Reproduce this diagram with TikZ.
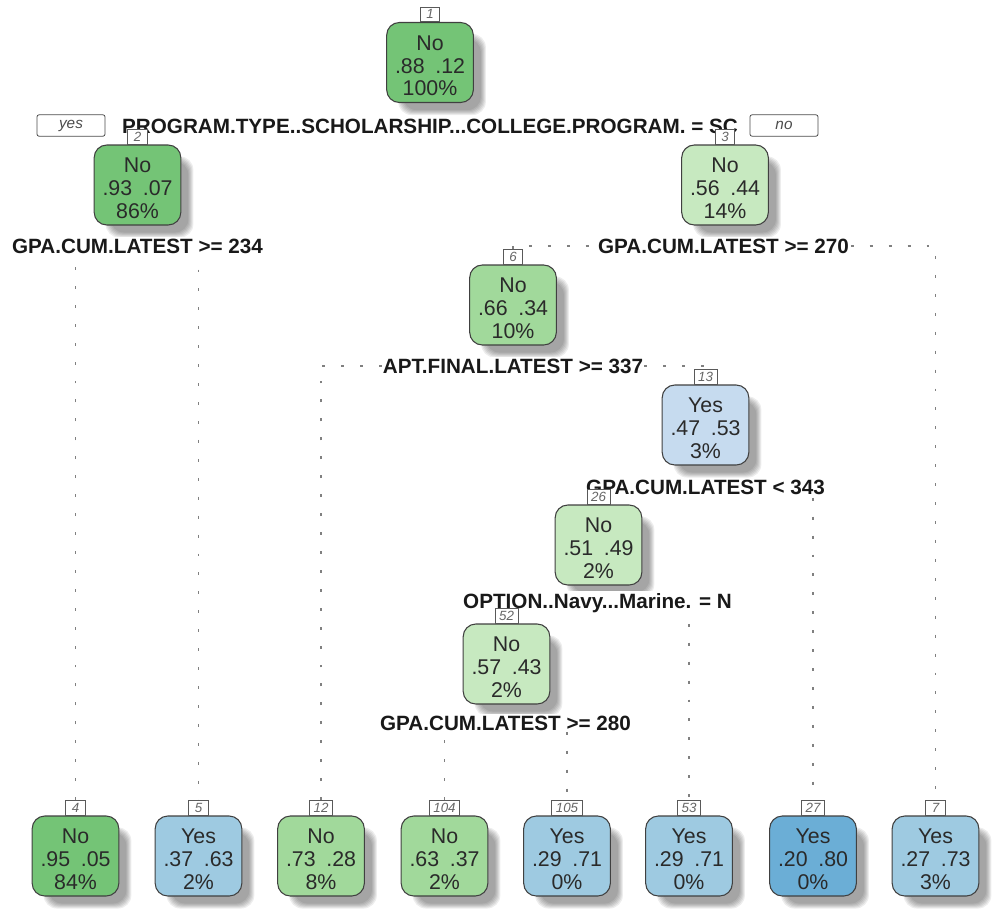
\documentclass[tikz,border=0pt]{standalone}
\usepackage{fontspec}
\setmainfont{Liberation Sans}
\usetikzlibrary{calc}

% fills of the class scale: greens for "No", blues for "Yes"
\definecolor{gnDark}{HTML}{74C476}
\definecolor{gnMid}{HTML}{A1D99B}
\definecolor{gnLight}{HTML}{C7E9C0}
\definecolor{buLight}{HTML}{C6DBEF}
\definecolor{buMid}{HTML}{9ECAE1}
\definecolor{buDark}{HTML}{6BAED6}
\definecolor{txt}{HTML}{2A2A2A}
\definecolor{edgeline}{HTML}{808080}

\newcommand\tnfont{\fontsize{16}{17}\selectfont}
\newcommand\spfont{\bfseries\fontsize{15.5}{17}\selectfont}
\newcommand\idfont{\itshape\fontsize{10}{11}\selectfont}
\newcommand\gap{\hspace{0.5em}}
% taller first line so the three lines sit a little lower in the box
\newcommand\topline{\rule{0pt}{16pt}}

\pgfdeclarelayer{shade}
\pgfdeclarelayer{links}
\pgfsetlayers{shade,links,main}

\tikzset{
  treebox/.style={draw=black!75, line width=0.8pt, rounded corners=9.5pt,
    minimum width=65pt, minimum height=60pt, inner sep=0pt,
    align=center, font=\tnfont, text=txt},
  idbox/.style={draw=black!65, fill=white, line width=0.6pt, anchor=south,
    minimum width=14.5pt, minimum height=11pt, inner xsep=3pt, inner ysep=0pt,
    font=\idfont, text=black!60},
  splitlabel/.style={fill=white, inner xsep=1pt, inner ysep=1.5pt, font=\spfont, text=black!90},
  link/.style={draw=edgeline, line width=1.1pt, dash pattern=on 2.2pt off 12pt},
  answer/.style={draw=black!70, fill=white, line width=0.6pt, rounded corners=1.5pt,
    minimum width=51pt, minimum height=16pt, inner sep=0pt,
    font=\itshape\fontsize{11.5}{12}\selectfont, text=black!70}
}

\begin{document}
\begin{tikzpicture}[x=0.75pt,y=-0.75pt]
\useasboundingbox (0,0) rectangle (994,915);

% ---- tree nodes ----
\node[treebox, fill=gnDark]  (n1)   at (430,62.5)  {\topline No\\.88\gap.12\\100\%};
\node[treebox, fill=gnDark]  (n2)   at (137.5,185) {\topline No\\.93\gap.07\\86\%};
\node[treebox, fill=gnLight] (n3)   at (725,185)   {\topline No\\.56\gap.44\\14\%};
\node[treebox, fill=gnMid]   (n6)   at (513,305)   {\topline No\\.66\gap.34\\10\%};
\node[treebox, fill=buLight] (n13)  at (705.5,425) {\topline Yes\\.47\gap.53\\3\%};
\node[treebox, fill=gnLight] (n26)  at (598.5,545) {\topline No\\.51\gap.49\\2\%};
\node[treebox, fill=gnLight] (n52)  at (506.5,664) {\topline No\\.57\gap.43\\2\%};
% leaves
\node[treebox, fill=gnDark]  (n4)   at (75.5,856)  {\topline No\\.95\gap.05\\84\%};
\node[treebox, fill=buMid]   (n5)   at (198.5,856) {\topline Yes\\.37\gap.63\\2\%};
\node[treebox, fill=gnMid]   (n12)  at (321,856)   {\topline No\\.73\gap.28\\8\%};
\node[treebox, fill=gnMid]   (n104) at (444.5,856) {\topline No\\.63\gap.37\\2\%};
\node[treebox, fill=buMid]   (n105) at (567,856)   {\topline Yes\\.29\gap.71\\0\%};
\node[treebox, fill=buMid]   (n53)  at (689,856)   {\topline Yes\\.29\gap.71\\0\%};
\node[treebox, fill=buDark]  (n27)  at (813,856)   {\topline Yes\\.20\gap.80\\0\%};
\node[treebox, fill=buMid]   (n7)   at (935.5,856) {\topline Yes\\.27\gap.73\\3\%};

% ---- node numbers ----
\foreach \k in {1,2,3,6,13,26,52,4,5,12,104,105,53,27,7}
  \node[idbox] (i\k) at (n\k.north) {\k};

% ---- yes / no tags ----
\node[answer] (yes) at (71,125.5) {yes};
\node[answer] (no)  at (784,125.5) {no};

% ---- split points ----
\coordinate (s1)  at (430,126);
\coordinate (s2)  at (137.5,246);
\coordinate (s3)  at (723.5,246);
\coordinate (s6)  at (513,366);
\coordinate (s13) at (705.5,487);
\coordinate (s26) at (597.5,603);
\coordinate (s52) at (505.5,723);

\begin{pgfonlayer}{links}
  \draw[link] (i2.north) -- (i2.north |- s1) -- (i3.north |- s1) -- (i3.north);
  \draw[link] (i4.north) -- (i4.north |- s2) -- (i5.north |- s2) -- (i5.north);
  \draw[link] (i6.north) -- (i6.north |- s3) -- (i7.north |- s3) -- (i7.north);
  \draw[link] (i12.north) -- (i12.north |- s6) -- (i13.north |- s6) -- (i13.north);
  \draw[link] (i26.north) -- (i26.north |- s13) -- (i27.north |- s13) -- (i27.north);
  \draw[link] (i52.north) -- (i52.north |- s26) -- (i53.north |- s26) -- (i53.north);
  \draw[link] (i104.north) -- (i104.north |- s52) -- (i105.north |- s52) -- (i105.north);

  \node[splitlabel] (t1)  at (s1)  {PROGRAM.TYPE..SCHOLARSHIP...COLLEGE.PROGRAM. = SC};
  \node[splitlabel] (t2)  at (s2)  {GPA.CUM.LATEST >= 234};
  \node[splitlabel] (t3)  at (s3)  {GPA.CUM.LATEST >= 270};
  \node[splitlabel] (t6)  at (s6)  {APT.FINAL.LATEST >= 337};
  \node[splitlabel] (t13) at (s13) {GPA.CUM.LATEST < 343};
  \node[splitlabel] (t26) at (s26) {OPTION..Navy...Marine. = N};
  \node[splitlabel] (t52) at (s52) {GPA.CUM.LATEST >= 280};
\end{pgfonlayer}

% ---- soft drop shadows ----
\begin{pgfonlayer}{shade}
  \foreach \n in {n1,n2,n3,n6,n13,n26,n52,n4,n5,n12,n104,n105,n53,n27,n7}
    \foreach \k [evaluate=\k as \d using 1.6*\k-4] in {0,...,5}
      \fill[black, opacity=0.07, rounded corners=10pt]
        ([shift={(12+\d,12+\d)}]\n.north west) rectangle ([shift={(12-\d,12-\d)}]\n.south east);
\end{pgfonlayer}
\end{tikzpicture}
\end{document}
